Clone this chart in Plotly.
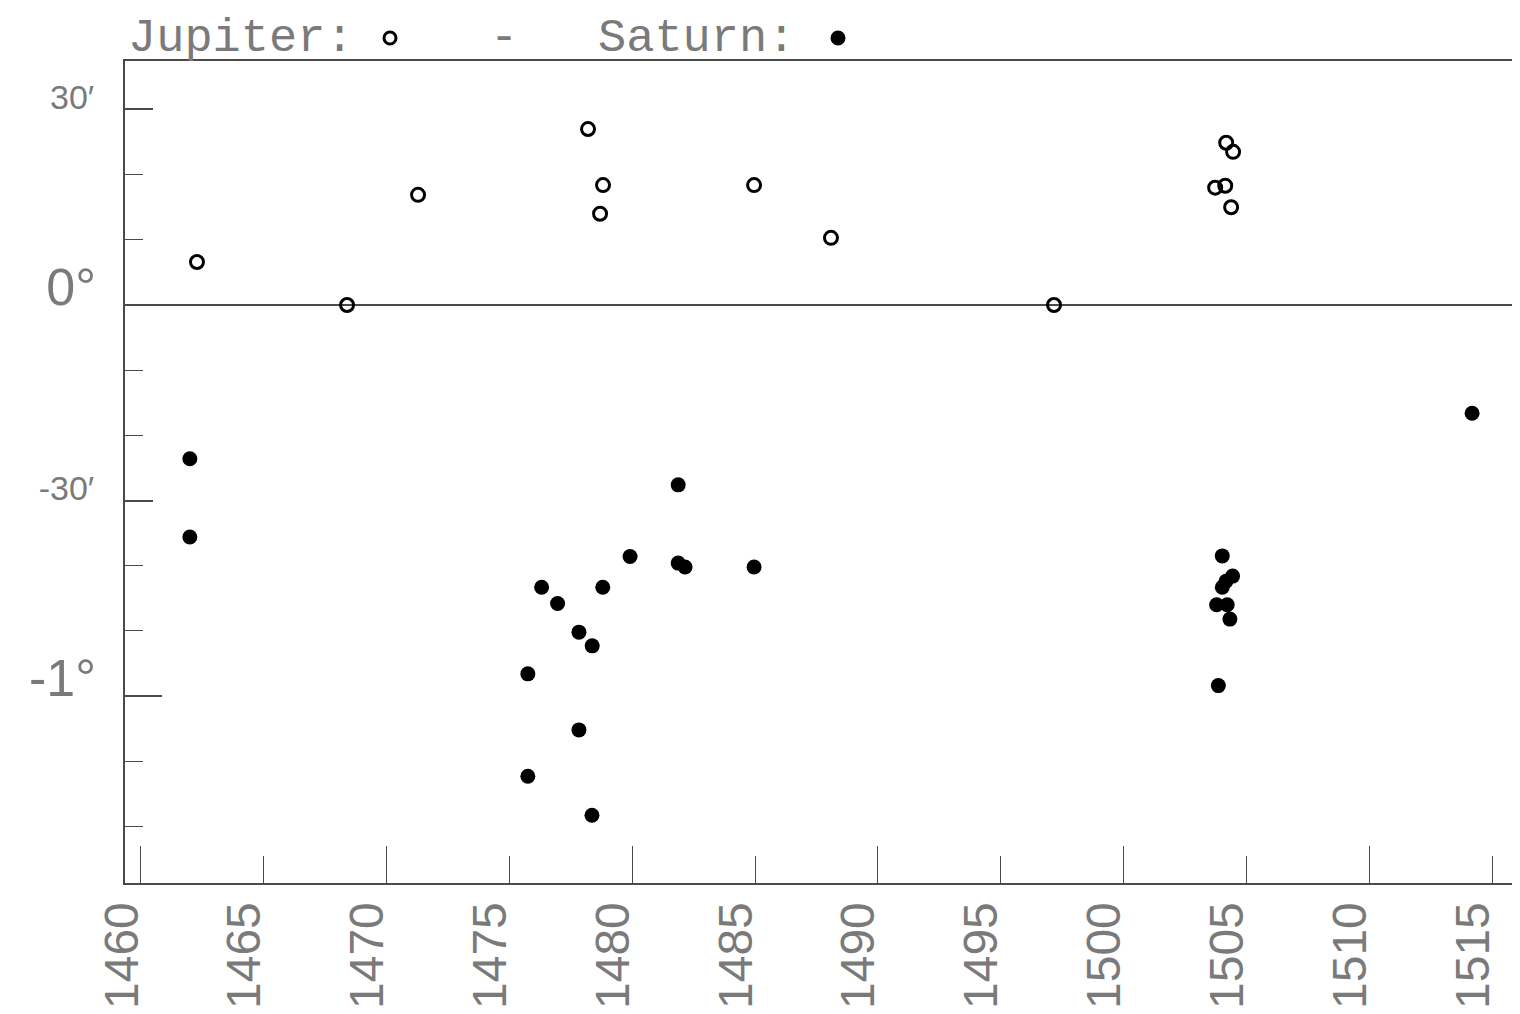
import plotly.graph_objects as go

# ---- data (year, ecliptic latitude in arc-minutes) ----
jupiter_year = [1462.28, 1468.39, 1471.28, 1478.20, 1478.81, 1478.69, 1484.96,
                1488.09, 1497.17, 1504.18, 1504.46, 1503.73, 1504.14, 1504.38]
jupiter_lat = [6.6, 0.0, 16.9, 27.0, 18.4, 14.0, 18.4,
               10.3, 0.0, 24.9, 23.5, 18.0, 18.3, 15.0]

saturn_year = [1461.99, 1461.99, 1476.31, 1476.96, 1477.83, 1478.37, 1475.75,
               1477.83, 1475.75, 1478.36, 1478.80, 1479.91, 1481.87, 1481.87,
               1482.15, 1484.96, 1514.19, 1504.02, 1504.44, 1504.17, 1504.02,
               1503.79, 1504.22, 1504.33, 1503.86]
saturn_lat = [-23.6, -35.6, -43.3, -45.8, -50.2, -52.3, -56.6,
              -65.2, -72.3, -78.3, -43.3, -38.6, -27.6, -39.6,
              -40.2, -40.2, -16.6, -38.5, -41.6, -42.4, -43.3,
              -46.0, -46.0, -48.2, -58.4]

year_ticks = list(range(1460, 1516, 5))
year_major = list(range(1460, 1516, 10))
lat_minor_vals = [30, -30]
lat_minor_text = ["30\u2032", "-30\u2032"]
lat_major_vals = [0, -60]
lat_major_text = ["0\u00b0", "-1\u00b0"]
lat_small_ticks = [30, 20, 10, -10, -20, -40, -50, -70, -80]

X_RANGE = [1459.35, 1516.14]
Y_RANGE = [-88.69, 37.44]

SANS = "Liberation Sans, Arial, sans-serif"
MONO = "Liberation Mono, DejaVu Sans Mono, monospace"
TXT = "#7a7a7a"
AX = "#4a4a4a"

fig = go.Figure()
fig.add_trace(go.Scatter(x=saturn_year, y=saturn_lat, mode="markers",
                         marker=dict(symbol="circle", size=15, color="black",
                                     line=dict(width=0)),
                         showlegend=False, name="Saturn"))
fig.add_trace(go.Scatter(x=jupiter_year, y=jupiter_lat, mode="markers",
                         marker=dict(symbol="circle-open", size=13, color="black",
                                     line=dict(width=3, color="black")),
                         showlegend=False, name="Jupiter"))
# empty traces so the overlay axes (longer tick marks) are drawn
fig.add_trace(go.Scatter(x=[], y=[], xaxis="x2", yaxis="y", showlegend=False))
fig.add_trace(go.Scatter(x=[], y=[], xaxis="x", yaxis="y2", showlegend=False))

# page body has an 8px margin; size the figure so it fits the window
OFF = 8
W, H = 1520 - OFF, 1014 - OFF
L, R, T, B = 125 - OFF, 0, 61 - OFF, 1014 - 883
pw, ph = W - L - R, H - T - B


def px(xp):
    return (xp - OFF - L) / pw


def py(yp):
    return (H - B - (yp - OFF)) / ph


fig.update_layout(
    width=W, height=H,
    margin=dict(l=L, r=R, t=T, b=B, pad=0, autoexpand=False),
    paper_bgcolor="white", plot_bgcolor="white",
    showlegend=False,
    xaxis=dict(range=X_RANGE, tickvals=year_ticks,
               ticktext=[str(v) for v in year_ticks],
               ticks="inside", ticklen=27, tickwidth=1.3, tickcolor=AX,
               tickangle=-90, ticklabelshift=-19, ticklabelstandoff=-2,
               tickfont=dict(family=SANS, size=48, color=TXT),
               showline=True, linecolor=AX, linewidth=2, mirror=True,
               showgrid=False, zeroline=False, automargin=False),
    xaxis2=dict(range=X_RANGE, overlaying="x", anchor="y", side="bottom",
                tickvals=year_major, ticks="inside", ticklen=37, tickwidth=1.3,
                tickcolor=AX, showticklabels=False, showline=False,
                showgrid=False, zeroline=False, automargin=False),
    yaxis=dict(range=Y_RANGE, tickvals=lat_minor_vals, ticktext=lat_minor_text,
               ticks="inside", ticklen=28, tickwidth=1.5, tickcolor=AX,
               minor=dict(tickvals=lat_small_ticks,
                          ticks="inside", ticklen=18, tickwidth=1.3, tickcolor=AX),
               tickfont=dict(family=SANS, size=34, color=TXT),
               ticklabelshift=-12, ticklabelstandoff=22,
               showline=True, linecolor=AX, linewidth=2, mirror=False,
               showgrid=False, zeroline=True, zerolinecolor=AX, zerolinewidth=1.5,
               automargin=False),
    yaxis2=dict(range=Y_RANGE, overlaying="y", anchor="x", side="left",
                tickvals=lat_major_vals, ticktext=lat_major_text,
                ticks="inside", ticklen=37, tickwidth=1.5, tickcolor=AX,
                tickfont=dict(family=SANS, size=52, color=TXT),
                ticklabelshift=-18, ticklabelstandoff=28,
                showline=False, showgrid=False, zeroline=False, automargin=False),
)

# title line: "Jupiter: o  -  Saturn: •"
title_parts = [("Jupiter:", 126), ("-", 488), ("Saturn:", 596)]
for txt, xpix in title_parts:
    fig.add_annotation(text=txt, xref="paper", yref="paper",
                       x=px(xpix), y=py(39), xanchor="left", yanchor="middle",
                       showarrow=False,
                       font=dict(family=MONO, size=47, color=TXT))

for xpix, filled in [(390, False), (838, True)]:
    fig.add_shape(type="circle", xref="paper", yref="paper",
                  xsizemode="pixel", ysizemode="pixel",
                  xanchor=px(xpix), yanchor=py(38),
                  x0=-6, x1=6, y0=-6, y1=6,
                  line=dict(color="black", width=3),
                  fillcolor="black" if filled else "rgba(0,0,0,0)")

fig.write_html("out.html")
